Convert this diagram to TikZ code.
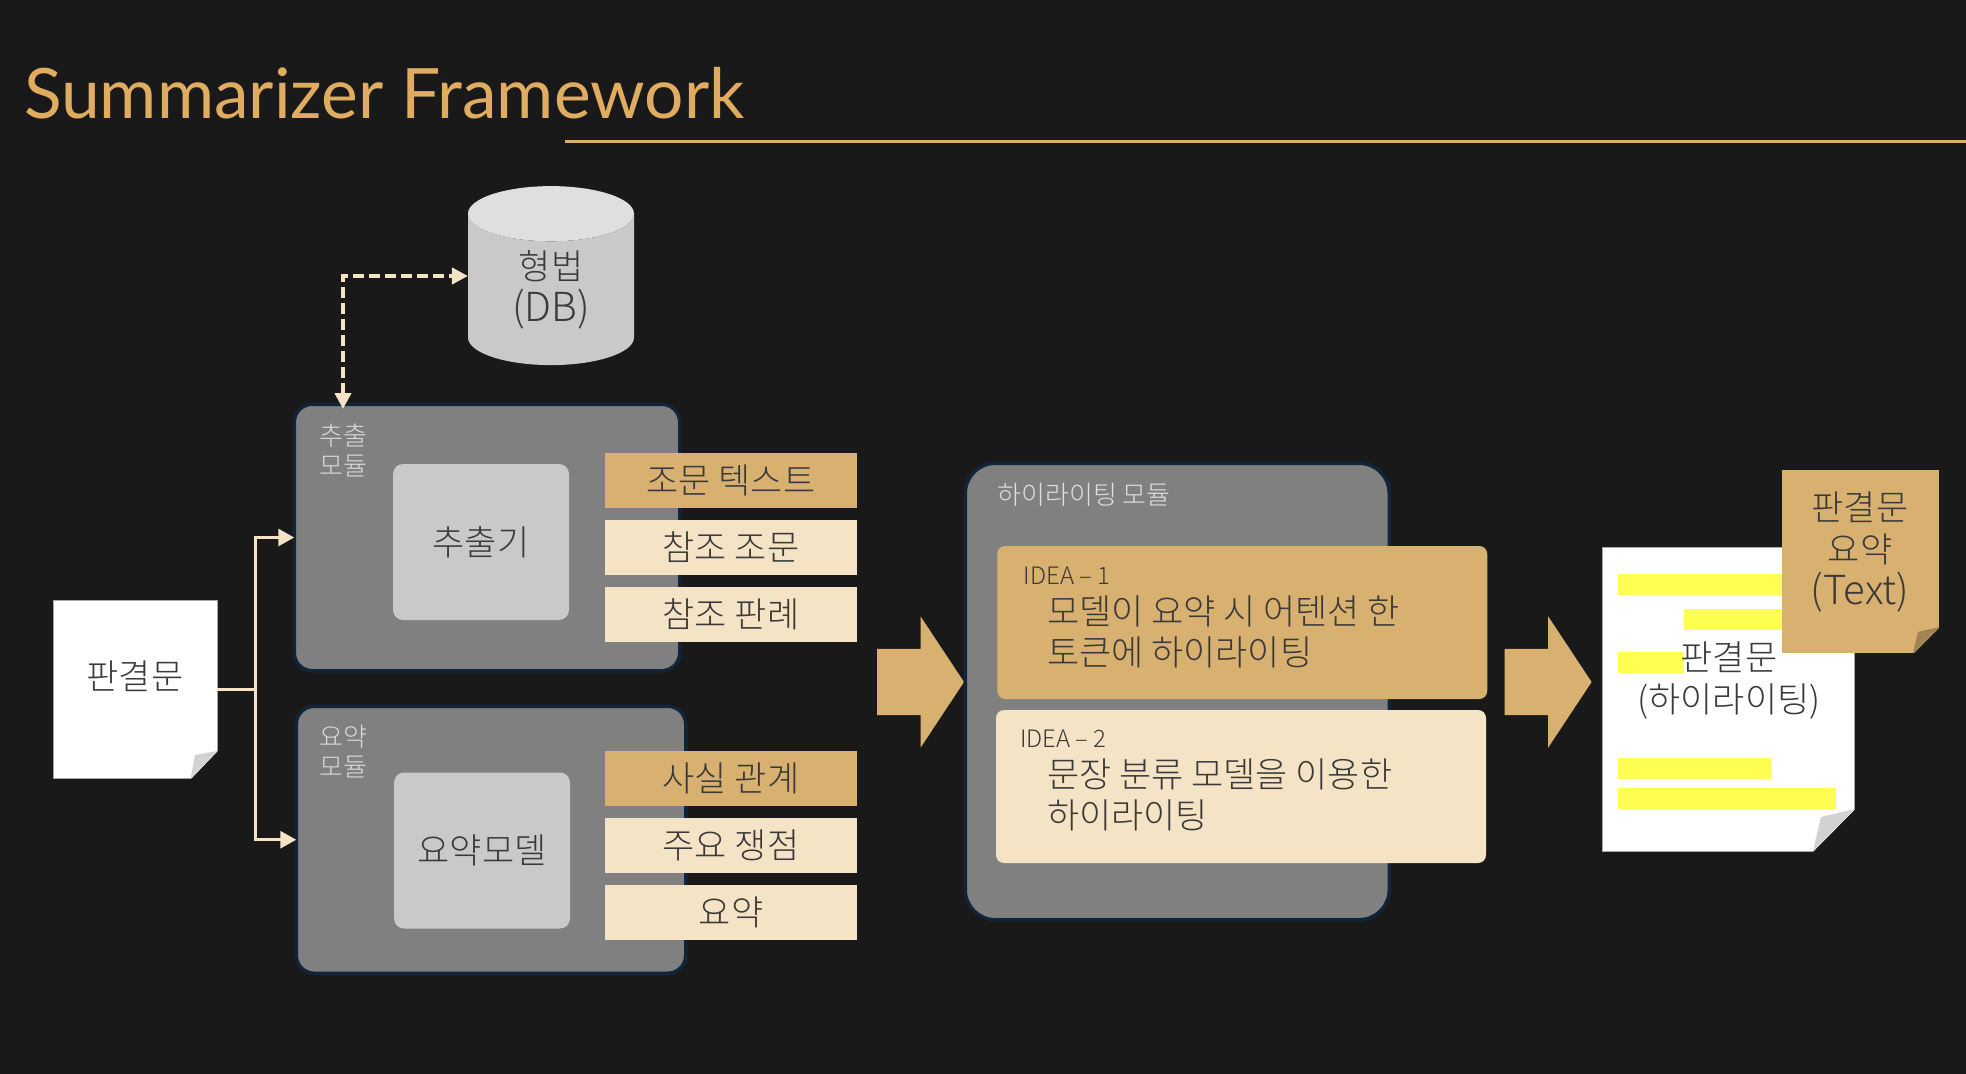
\documentclass[tikz,border=0pt]{standalone}
\usepackage{fontspec}
\setmainfont{Noto Sans CJK KR Light}
\newfontfamily\titlefont{Lato}
\usetikzlibrary{arrows.meta, shapes.geometric, shapes.arrows}
\definecolor{canvas}{HTML}{1A191A}
\definecolor{gold}{HTML}{D8B06F}
\definecolor{titlegold}{HTML}{E0AD60}
\definecolor{cream}{HTML}{F5E3C6}
\definecolor{edgeblue}{HTML}{10253A}
\definecolor{modfill}{HTML}{808080}
\definecolor{boxfill}{HTML}{C9C9C9}
\definecolor{marker}{HTML}{FFFF52}
\definecolor{inktext}{HTML}{3A3A3A}
\newcommand{\wide}[1]{{\fontsize{40}{42}\selectfont #1}}
\begin{document}
\begin{tikzpicture}[x=1pt,y=-1pt,node distance=67pt,
  every node/.style={inner sep=0pt,outer sep=0pt,text=inktext,align=center},
  txt/.style={font=\fontsize{35}{42}\selectfont},
  small/.style={font=\fontsize{26}{30}\selectfont},
  head/.style={font=\fontsize{24}{30}\selectfont},
  module/.style={draw=edgeblue,line width=3.5pt,fill=modfill,rounded corners=18pt},
  model/.style={fill=boxfill,rounded corners=10pt,txt,minimum width=176pt,minimum height=156pt},
  tag/.style={fill=cream,txt,minimum width=252pt,minimum height=55.5pt},
  keytag/.style={tag,fill=gold},
  idea/.style={rounded corners=8pt,minimum width=490pt,minimum height=153pt},
  page/.style={fill=white,draw=gray!70,line width=0.8pt},
  bigarrow/.style={single arrow,fill=gold,anchor=tail,inner ysep=33pt,minimum height=87pt,
    single arrow head extend=32.5pt,single arrow tip angle=113,single arrow head indent=0pt},
  flow/.style={draw=cream,line width=3pt,-{Triangle[length=16pt,width=17pt,fill=cream]}},
  flowdash/.style={draw=cream,line width=4pt,dash pattern=on 11pt off 5pt,
    {Triangle[length=16pt,width=16pt,fill=cream]}-{Triangle[length=16pt,width=16pt,fill=cream]}}]
  \useasboundingbox (0,0) rectangle (1966,1074);
  \fill[canvas] (-5,-5) rectangle (1971,1079);

  \node[anchor=base west,text=titlegold,font=\titlefont\fontsize{69.5}{80}\selectfont] (title) at (24,118) {Summarizer Framework};
  \coordinate (rulestart) at (565,141.5);
  \coordinate (ruleend) at (1966,141.5);
  \draw[gold,line width=2.5pt] (rulestart) -- (ruleend);

  \node[cylinder,shape border rotate=90,aspect=0.71,cylinder uses custom fill,
    cylinder body fill=boxfill,cylinder end fill=gray!25!white,
    minimum width=166pt,minimum height=179pt,txt] (db) at (551,289.5) {형법\\\wide{(DB)}};

  % extraction module
  \node[module,minimum width=385.5pt,minimum height=266.5pt] (ext) at (487,537.5) {};
  \node[small,text=gray!30!white] (extlabel) at (343,450) {추출\\모듈};
  \node[model] (extractor) at (481,542) {추출기};
  \node[keytag] (clause) at (731,480.5) {조문 텍스트};
  \node[tag] (refclause) [below of=clause] {참조 조문};
  \node[tag] (refcase) [below of=refclause] {참조 판례};
  \coordinate (dbport) at (343,409);

  % summary module
  \node[module,minimum width=389.5pt,minimum height=267pt] (sum) at (491,839.75) {};
  \node[small,text=gray!30!white] (sumlabel) at (343,752) {요약\\모듈};
  \node[model] (summarizer) at (482,850.5) {요약모델};
  \node[keytag] (fact) at (731,778.5) {사실 관계};
  \node[tag] (issue) [below of=fact] {주요 쟁점};
  \node[tag] (digest) [below of=issue] {요약};

  % input document
  \node[page,minimum width=164pt,minimum height=178pt,txt] (doc) at (135,689.5) {};
  \fill[canvas] (doc.south east) ++(1,1) -- ++(0,-28.5) -- (190.6,779.5) -- cycle;
  \fill[gray!35!white] (217,751) -- (195,755) -- (190.6,778.5) -- cycle;
  \node[txt] (doctext) at (135,676) {판결문};

  \draw[flow] (doc.east) -- ++(38.5,0) |- (ext.west);
  \draw[flow] (doc.east) -- ++(38.5,0) |- (sum.west);
  \draw[flowdash] (dbport) |- ([yshift=13.5pt]db.west);

  % highlight module
  \node[bigarrow] (arrowin) at (877,682) {};
  \node[module,rounded corners=30pt,minimum width=424pt,minimum height=456.5pt] (high) at (1177.25,691.5) {};
  \node[small,text=gray!25!white,anchor=west] (highlabel) at (997.5,495) {하이라이팅 모듈};
  \node[idea,fill=gold] (idea1) at (1242.25,622.5) {};
  \node[idea,fill=cream] (idea2) at (1241,786.5) {};
  \node[head,anchor=west] (idea1head) at (1023.6,575.6) {IDEA – 1};
  \node[txt,anchor=west,align=left,font=\fontsize{35}{41}\selectfont] (idea1text) at (1047,631.5) {모델이 요약 시 어텐션 한\\토큰에 하이라이팅};
  \node[head,anchor=west] (idea2head) at (1020,739) {IDEA – 2};
  \node[txt,anchor=west,align=left,font=\fontsize{35}{41}\selectfont] (idea2text) at (1047,795) {문장 분류 모델을 이용한\\하이라이팅};
  \node[bigarrow] (arrowout) at (1504.6,682) {};

  % highlighted document
  \node[page,minimum width=252.5pt,minimum height=304pt] (hdoc) at (1728.25,699) {};
  \fill[canvas] (hdoc.south east) ++(1,1) -- ++(0,-43) -- (1813,852) -- cycle;
  \fill[gray!35!white] (1854.5,809) -- (1821,817) -- (1813,851) -- cycle;
  \fill[marker] (1618,574) rectangle (1782,595);
  \fill[marker] (1684,609) rectangle (1782,630);
  \fill[marker] (1618,652) rectangle (1684,673);
  \fill[marker] (1618,758) rectangle (1771,779);
  \fill[marker] (1618,788) rectangle (1836,809);
  \node[txt] (hdoctext) at (1729,681) {판결문\\(하이라이팅)};

  % summary note
  \node[fill=gold,minimum width=157pt,minimum height=183pt] (note) at (1860.5,561.5) {};
  \fill[canvas] (note.south east) ++(1,1) -- ++(0,-27) -- (1913,654) -- cycle;
  \fill[gold!75!black] (1939,627) -- (1918,632) -- (1913,653) -- cycle;
  \node[txt] (notetext) at (1860,552) {판결문\\요약\\\wide{(Text)}};
\end{tikzpicture}
\end{document}
